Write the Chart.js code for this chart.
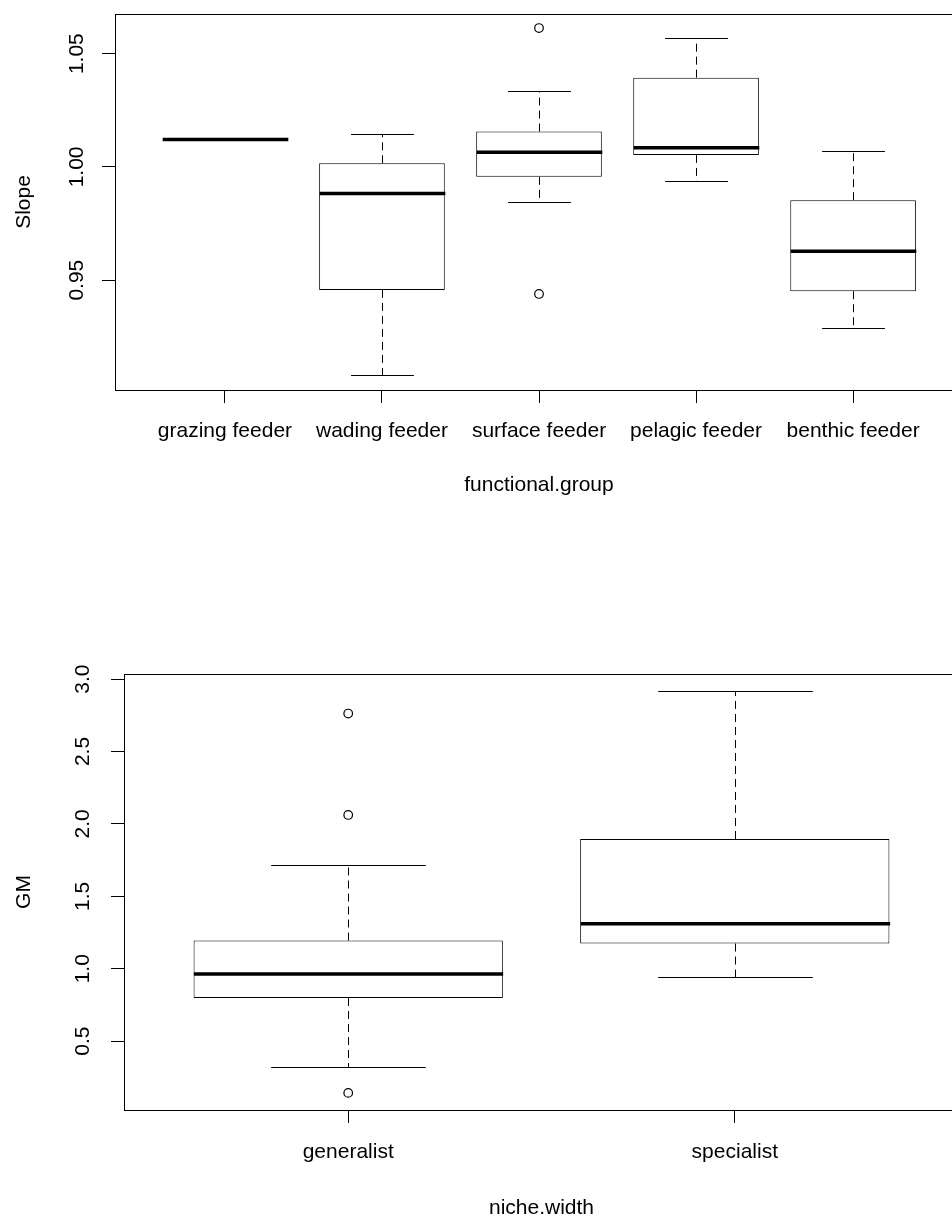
<!DOCTYPE html>
<html><head><meta charset="utf-8">
<script src="https://cdn.jsdelivr.net/npm/chart.js@4.4.1/dist/chart.umd.min.js"></script>
<style>
html,body{margin:0;padding:0;background:#fff;overflow:hidden;width:952px;height:1226px;}
.wrap{position:absolute;left:0;width:1000px;height:613px;}
canvas{display:block;}
</style></head><body>
<div class="wrap" style="top:0"><canvas id="c1" width="1000" height="613"></canvas></div>
<div class="wrap" style="top:613px"><canvas id="c2" width="1000" height="613"></canvas></div>
<script>
// ---- Data: top panel (Slope by functional.group) ----
const groupCategories = ["grazing feeder", "wading feeder", "surface feeder", "pelagic feeder", "benthic feeder"];
const groupWhiskerLow  = [1.0121, 0.9080, 0.9846, 0.9937, 0.9287];
const groupQ1          = [1.0121, 0.9457, 0.9956, 1.0053, 0.9451];
const groupMedian      = [1.0121, 0.9882, 1.0065, 1.0085, 0.9628];
const groupQ3          = [1.0121, 1.0016, 1.0156, 1.0394, 0.9853];
const groupWhiskerHigh = [1.0121, 1.0146, 1.0334, 1.0569, 1.0071];
const groupOutliers    = [[], [], [1.0613, 0.9439], [], []];
const slopeTicks       = [0.95, 1.00, 1.05];
const slopeTickLabels  = ["0.95", "1.00", "1.05"];

// ---- Data: bottom panel (GM by niche.width) ----
const nicheCategories  = ["generalist", "specialist"];
const nicheWhiskerLow  = [0.319, 0.946];
const nicheQ1          = [0.798, 1.174];
const nicheMedian      = [0.964, 1.310];
const nicheQ3          = [1.195, 1.896];
const nicheWhiskerHigh = [1.718, 2.919];
const nicheOutliers    = [[2.762, 2.062, 0.143], []];
const gmTicks          = [0.5, 1.0, 1.5, 2.0, 2.5, 3.0];
const gmTickLabels     = ["0.5", "1.0", "1.5", "2.0", "2.5", "3.0"];

const FONT = "'Liberation Sans', Arial, Helvetica, sans-serif";

const boxPlugin = {
  id: 'rbox',
  afterDatasetsDraw(chart, args, opts) {
    const {ctx, chartArea} = chart;
    const x = chart.scales.x, y = chart.scales.y;
    const s = opts.stats;
    const line = (x1, y1, x2, y2) => { ctx.beginPath(); ctx.moveTo(x1, y1); ctx.lineTo(x2, y2); ctx.stroke(); };
    ctx.save();
    ctx.strokeStyle = '#000';
    ctx.lineCap = 'butt';
    s.med.forEach((m, i) => {
      const cx = Math.round(x.getPixelForValue(i + 1)) + 0.5;
      const half = x.getPixelForValue(i + 1 + 0.4) - x.getPixelForValue(i + 1);
      const cap = half / 2;
      const yLo = Math.round(y.getPixelForValue(s.lo[i])) + 0.5;
      const yQ1 = y.getPixelForValue(s.q1[i]);
      const yMed = y.getPixelForValue(m);
      const yQ3 = y.getPixelForValue(s.q3[i]);
      const yHi = Math.round(y.getPixelForValue(s.hi[i])) + 0.5;
      ctx.lineWidth = 1;
      ctx.setLineDash([8, 5]);
      if (s.hi[i] > s.q3[i]) line(cx, yQ3, cx, yHi);
      if (s.lo[i] < s.q1[i]) line(cx, yQ1, cx, yLo);
      ctx.setLineDash([]);
      line(cx - cap, yHi, cx + cap, yHi);
      line(cx - cap, yLo, cx + cap, yLo);
      ctx.lineWidth = 3.5;
      line(cx - half, yMed, cx + half, yMed);
    });
    ctx.lineWidth = 1;
    ctx.strokeRect(Math.round(chartArea.left) + 0.5, Math.round(chartArea.top) + 0.5,
                   chartArea.width, chartArea.height);
    ctx.restore();
  }
};

function makeBoxChart(canvasId, cfg) {
  const n = cfg.cats.length;
  const boxData = cfg.cats.map((c, i) => ({x: i + 1, y: [cfg.q1[i], cfg.q3[i]]}));
  const outData = [];
  cfg.out.forEach((arr, i) => arr.forEach(v => outData.push({x: i + 1, y: v})));
  return new Chart(document.getElementById(canvasId), {
    type: 'bar',
    data: {
      datasets: [
        {
          type: 'bar', data: boxData,
          backgroundColor: '#fff', borderColor: '#000', borderWidth: 1,
          borderSkipped: false, barPercentage: 0.8, categoryPercentage: 1.0
        },
        {
          type: 'scatter', data: outData, showLine: false,
          pointRadius: 4.3, pointBorderWidth: 1.2, pointBackgroundColor: '#fff',
          pointBorderColor: '#000', pointHoverRadius: 4.3
        }
      ]
    },
    options: {
      responsive: false, animation: false, devicePixelRatio: 1,
      layout: {padding: cfg.padding},
      plugins: {
        legend: {display: false}, tooltip: {enabled: false},
        rbox: {stats: {lo: cfg.lo, q1: cfg.q1, med: cfg.med, q3: cfg.q3, hi: cfg.hi}}
      },
      scales: {
        x: {
          type: 'linear', min: 0.5 - 0.04 * n, max: n + 0.5 + 0.04 * n, offset: false,
          afterBuildTicks: sc => { sc.ticks = cfg.cats.map((c, i) => ({value: i + 1})); },
          afterFit: sc => { sc.height = cfg.xHeight; sc.paddingLeft = 0; sc.paddingRight = 0; },
          ticks: {
            callback: (v, i) => cfg.cats[i], autoSkip: false, maxRotation: 0, minRotation: 0,
            color: '#000', font: {family: FONT, size: 21}, padding: cfg.xTickPad
          },
          grid: {display: true, offset: false, drawOnChartArea: false, drawTicks: true, tickLength: 13, color: '#000', lineWidth: 1},
          border: {display: true, color: '#000', width: 1},
          title: {display: true, text: cfg.xTitle, color: '#000', font: {family: FONT, size: 21}, padding: {top: 0, bottom: cfg.xTitlePad}}
        },
        y: {
          type: 'linear', min: cfg.yMin, max: cfg.yMax, beginAtZero: false,
          afterBuildTicks: sc => { sc.ticks = cfg.yTicks.map(v => ({value: v})); },
          afterFit: sc => { sc.width = cfg.yWidth; sc.paddingTop = 0; sc.paddingBottom = 0; },
          ticks: {
            callback: (v, i) => cfg.yLabels[i], minRotation: 90, maxRotation: 90, crossAlign: 'center',
            color: '#000', font: {family: FONT, size: 21}, padding: cfg.yTickPad
          },
          grid: {display: true, drawOnChartArea: false, drawTicks: true, tickLength: 13, color: '#000', lineWidth: 1},
          border: {display: true, color: '#000', width: 1},
          title: {display: true, text: cfg.yTitle, color: '#000', font: {family: FONT, size: 21}, padding: {top: 11.4, bottom: 0}}
        }
      }
    },
    plugins: [boxPlugin]
  });
}

makeBoxChart('c1', {
  cats: groupCategories, lo: groupWhiskerLow, q1: groupQ1, med: groupMedian, q3: groupQ3, hi: groupWhiskerHigh,
  out: groupOutliers, yTicks: slopeTicks, yLabels: slopeTickLabels,
  yMin: 0.9015, yMax: 1.0675, xTitle: 'functional.group', yTitle: 'Slope',
  padding: {left: 0, top: 14, right: 37, bottom: 0}, yWidth: 115, xHeight: 223,
  xTickPad: 16, xTitlePad: 114.8, yTickPad: 4
});

makeBoxChart('c2', {
  cats: nicheCategories, lo: nicheWhiskerLow, q1: nicheQ1, med: nicheMedian, q3: nicheQ3, hi: nicheWhiskerHigh,
  out: nicheOutliers, yTicks: gmTicks, yLabels: gmTickLabels,
  yMin: 0.025, yMax: 3.035, xTitle: 'niche.width', yTitle: 'GM',
  padding: {left: 0, top: 61, right: 41, bottom: 0}, yWidth: 124, xHeight: 116,
  xTickPad: 17, xTitlePad: 4.8, yTickPad: 13
});
</script>
</body></html>
